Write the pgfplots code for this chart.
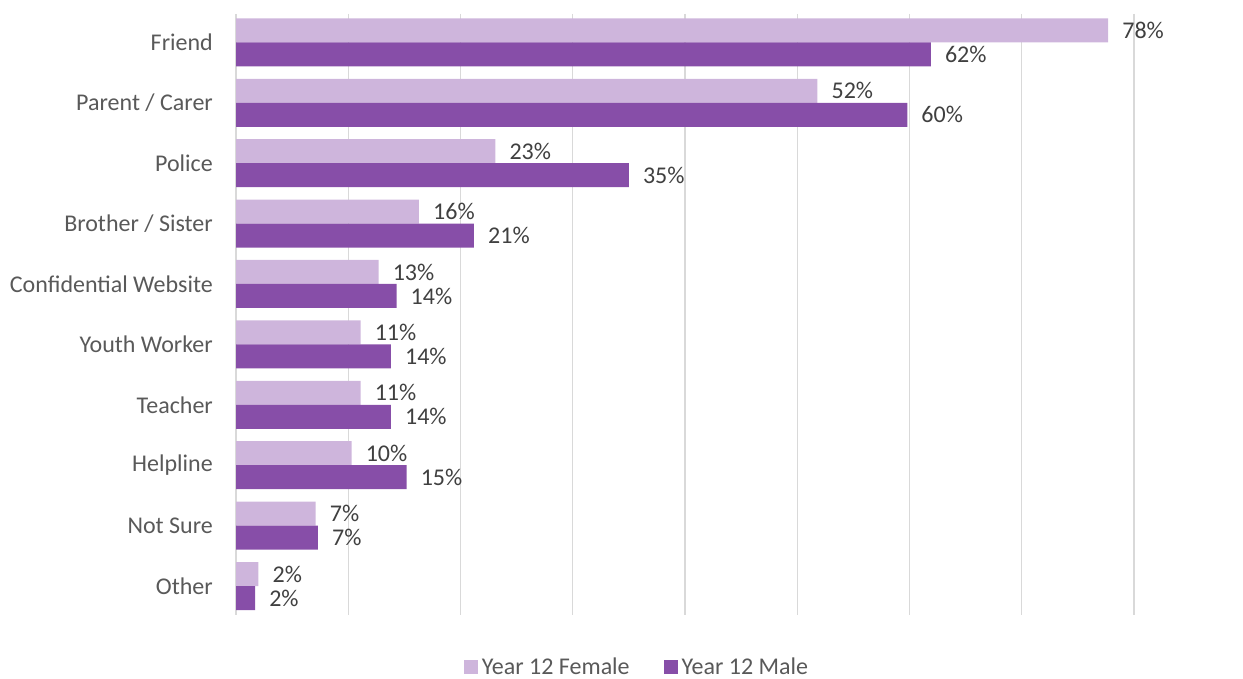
\documentclass[border=0pt]{standalone}
\usepackage{fontspec}
\setmainfont{Carlito}
\usepackage{pgfplots}
\pgfplotsset{compat=1.18}
\definecolor{fem}{HTML}{CEB5DC}
\definecolor{mal}{HTML}{874EA8}
\definecolor{gridc}{HTML}{D9D9D9}
\definecolor{txt}{HTML}{595959}
\definecolor{lbl}{HTML}{404040}
\begin{document}
\begin{tikzpicture}
\useasboundingbox (0,0) rectangle (1243bp,679bp);
\begin{axis}[
  at={(236bp,64bp)}, anchor=south west,
  scale only axis,
  width=898bp, height=601bp,
  xbar,
  bar width=24bp,
  xmin=0, xmax=80,
  ymin=-0.47, ymax=9.48,
  y dir=reverse,
  ytick={0,...,9},
  yticklabels={Friend,Parent / Carer,Police,Brother / Sister,Confidential Website,Youth Worker,Teacher,Helpline,Not Sure,Other},
  yticklabel style={font=\fontsize{24bp}{28bp}\selectfont, text=txt, anchor=east, inner sep=0pt, xshift=-23bp},
  xtick={0,10,...,80},
  xticklabels={},
  major tick length=0pt,
  xmajorgrids,
  grid style={gridc, line width=1.2bp},
  axis line style={draw=none},
  /pgf/number format/assume math mode=true,
  nodes near coords={\pgfmathprintnumber[fixed,precision=0]{\pgfplotspointmeta}\%},
  nodes near coords style={font=\fontsize{24bp}{28bp}\selectfont, text=lbl, anchor=west, inner sep=0pt, xshift=14bp},
  legend style={at={(0.4477,-0.0865)}, anchor=center, draw=none, fill=none,
    legend columns=2, font=\fontsize{24bp}{28bp}\selectfont, text=txt,
    /tikz/every even column/.append style={column sep=30bp},
    /tikz/every node/.append style={inner xsep=4bp}},
  legend image code/.code={\fill[#1, draw=none] (0bp,-7bp) rectangle (14bp,7bp);},
  legend cell align=left,
]
\addplot[fill=fem, draw=none, bar shift=12bp] coordinates {
 (77.7,0) (51.8,1) (23.1,2) (16.3,3) (12.7,4) (11.1,5) (11.1,6) (10.3,7) (7.1,8) (2.0,9)};
\addplot[fill=mal, draw=none, bar shift=-12bp] coordinates {
 (61.9,0) (59.8,1) (35.0,2) (21.2,3) (14.3,4) (13.8,5) (13.8,6) (15.2,7) (7.3,8) (1.7,9)};
\legend{Year 12 Female, Year 12 Male}
\end{axis}
\end{tikzpicture}
\end{document}
